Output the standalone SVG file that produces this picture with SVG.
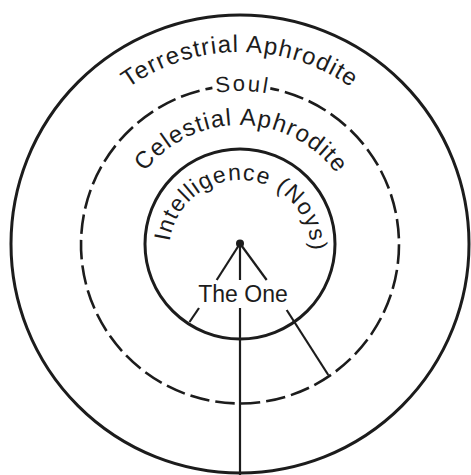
<svg xmlns="http://www.w3.org/2000/svg" xmlns:xlink="http://www.w3.org/1999/xlink" width="471" height="475" viewBox="0 0 471 475">
  <style>
    .ring { fill: none; stroke: #1c1c1c; stroke-width: 3; }
    .dash { fill: none; stroke: #1c1c1c; stroke-width: 2.6; stroke-dasharray: 19.5 6; stroke-dashoffset: 10.5; }
    .ln { fill: none; stroke: #1c1c1c; stroke-width: 2.2; stroke-linecap: butt; }
    .lbl { font-family: "Liberation Sans", Arial, sans-serif; fill: #1c1c1c; }
  </style>
  <defs>
    <path id="arcTerr" d="M240,436 A192,192 0 1,1 240,52 A192,192 0 1,1 240,436"/>
    <path id="arcSoul" d="M240,398 A153.5,153.5 0 1,1 240,91 A153.5,153.5 0 1,1 240,398"/>
    <path id="arcCel" d="M240,365 A120,120 0 1,1 240,125 A120,120 0 1,1 240,365"/>
    <path id="arcInt" d="M240,322 A71,71 0 1,1 240,180 A71,71 0 1,1 240,322"/>
  </defs>
  <rect width="471" height="475" fill="#ffffff"/>

  <g id="terrestrial">
    <circle class="ring" cx="240" cy="244" r="229"/>
    <text class="lbl" font-size="24" letter-spacing="1.2" text-anchor="middle"><textPath xlink:href="#arcTerr" href="#arcTerr" startOffset="50%">Terrestrial Aphrodite</textPath></text>
  </g>

  <g id="soul">
    <path class="dash" d="M270.3,88.4 A159,159 0 1,1 212.4,87.9"/>
    <text class="lbl" font-size="22" letter-spacing="2.2" text-anchor="middle"><textPath xlink:href="#arcSoul" href="#arcSoul" startOffset="50.25%">Soul</textPath></text>
  </g>

  <g id="celestial">
    <text class="lbl" font-size="24" letter-spacing="1.2" text-anchor="middle"><textPath xlink:href="#arcCel" href="#arcCel" startOffset="50.2%">Celestial Aphrodite</textPath></text>
  </g>

  <g id="intelligence">
    <circle class="ring" cx="240" cy="244" r="95"/>
    <text class="lbl" font-size="23" letter-spacing="1.2" text-anchor="middle"><textPath xlink:href="#arcInt" href="#arcInt" startOffset="51.1%">Intelligence (Noys)</textPath></text>
  </g>

  <g id="the-one">
    <circle cx="240" cy="243.5" r="4" fill="#1c1c1c"/>
    <text class="lbl" x="243" y="302" font-size="23" text-anchor="middle">The One</text>
  </g>

  <g id="connectors">
    <line class="ln" x1="240" y1="243.5" x2="216.7" y2="280"/>
    <line class="ln" x1="240" y1="243.5" x2="240" y2="280"/>
    <line class="ln" x1="240" y1="243.5" x2="266.7" y2="280"/>
    <line class="ln" x1="199" y1="308" x2="189.5" y2="322"/>
    <line class="ln" x1="240" y1="308" x2="240" y2="475"/>
    <line class="ln" x1="286.7" y1="310" x2="328.3" y2="375"/>
  </g>
</svg>
